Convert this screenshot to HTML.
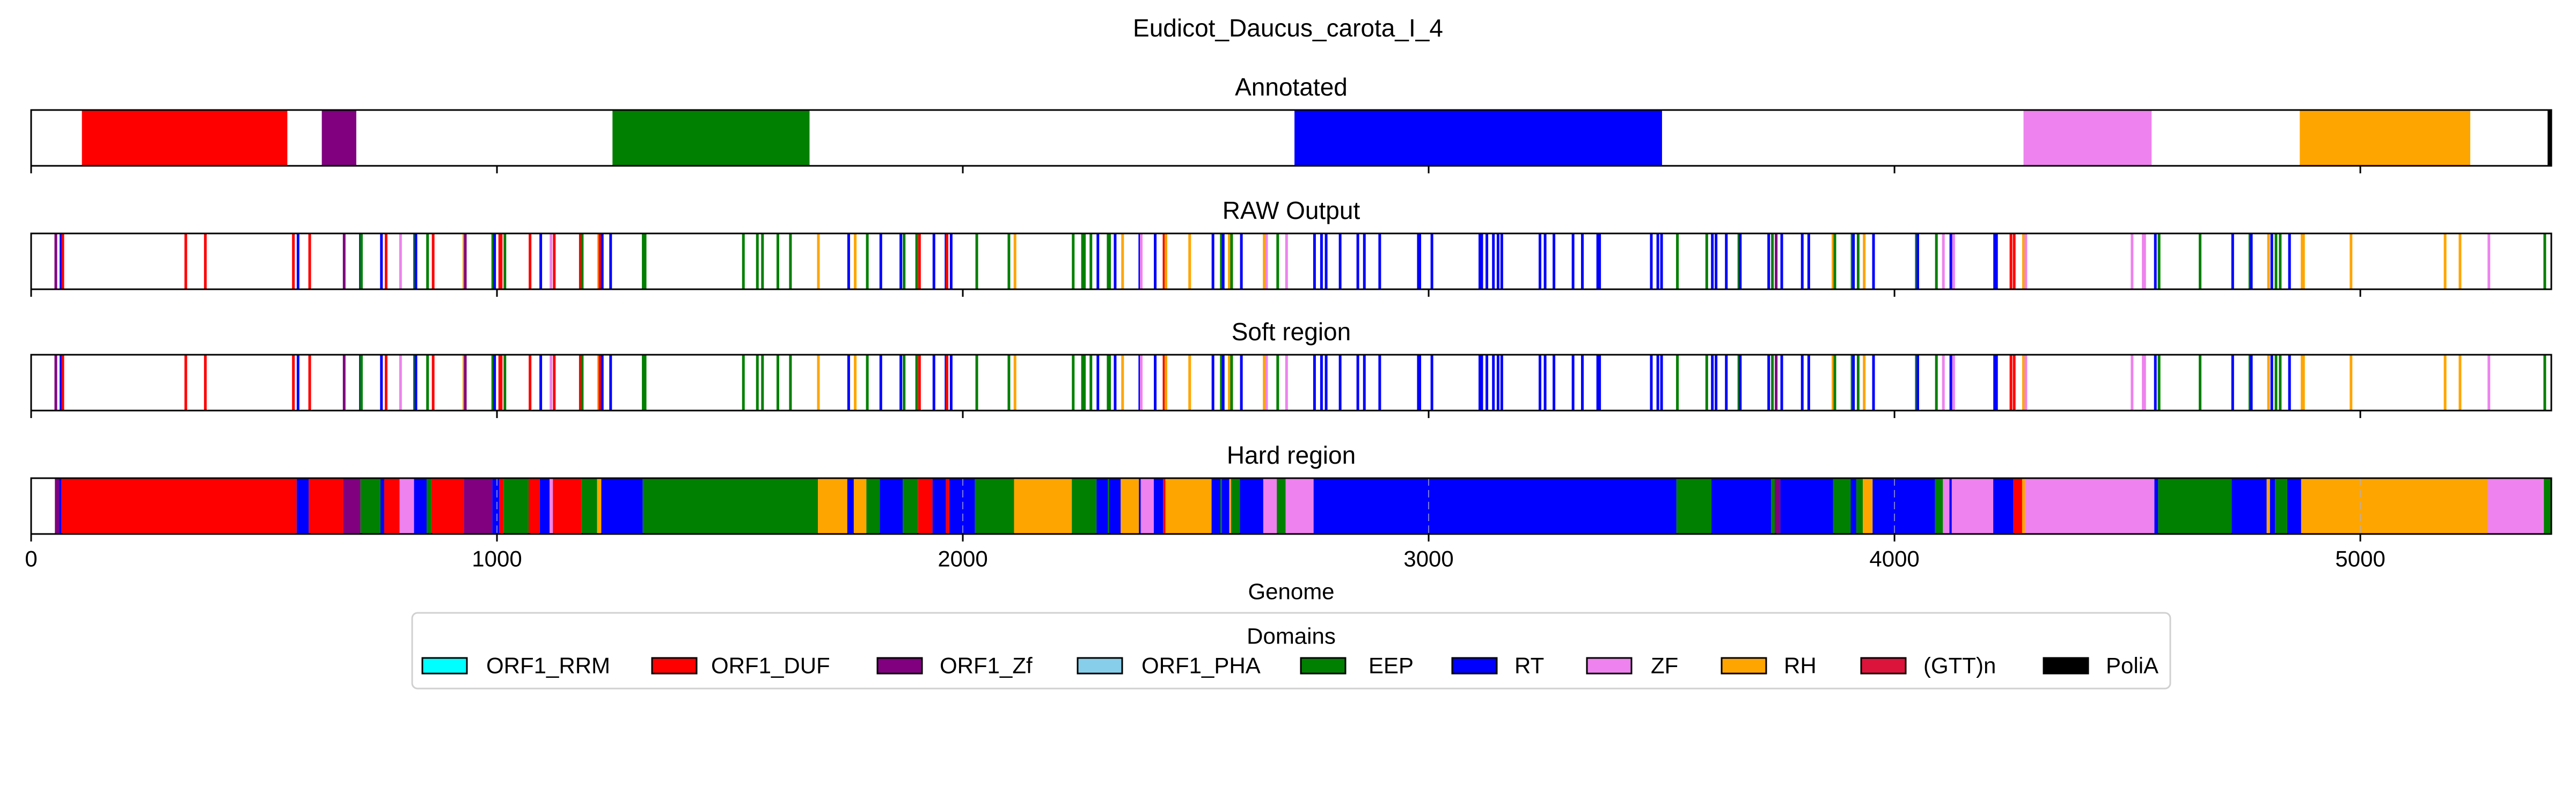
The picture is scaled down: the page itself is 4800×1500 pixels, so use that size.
<!DOCTYPE html>
<html><head><meta charset="utf-8">
<style>
html,body{margin:0;padding:0;background:#fff;}
svg{display:block;font-family:"Liberation Sans","DejaVu Sans",sans-serif;}
</style></head>
<body>
<svg id="chart" width="4800" height="1500" viewBox="0 0 4800 1500" xmlns="http://www.w3.org/2000/svg">
<rect x="0" y="0" width="4800" height="1500" fill="#fff"/>
<text x="2400" y="52" font-size="46" text-anchor="middle" dominant-baseline="central">Eudicot_Daucus_carota_I_4</text>
<g id="panels"></g>
<text x="2406" y="1102" font-size="42" text-anchor="middle" dominant-baseline="central">Genome</text>
<g id="legend">
<rect x="768" y="1142" width="3276" height="141" rx="10" fill="#fff" stroke="#d0d0d0" stroke-width="3"/>
<text x="2406" y="1185" font-size="42" text-anchor="middle" dominant-baseline="central">Domains</text>
</g>
</svg>
<script>
const xMin = 0, xMax = 5410;
const tickValues = [0, 1000, 2000, 3000, 4000, 5000];
const tickLabels = ["0", "1000", "2000", "3000", "4000", "5000"];
const domainNames = ["ORF1_RRM","ORF1_DUF","ORF1_Zf","ORF1_PHA","EEP","RT","ZF","RH","(GTT)n","PoliA"];
const domainColors = ["#00ffff","#ff0000","#800080","#87ceeb","#008000","#0000ff","#ee82ee","#ffa500","#dc143c","#000000"];
const codeMap = {D:"ORF1_DUF",Z:"ORF1_Zf",E:"EEP",R:"RT",F:"ZF",H:"RH",A:"PoliA",C:"(GTT)n"};

// Annotated segments
const annStarts = [109, 624, 1248, 2712, 4277, 4870, 5402];
const annEnds   = [550, 698, 1671, 3501, 4552, 5236, 5409];
const annDoms   = ["D","Z","E","R","F","H","A"];

// RAW / soft region hit positions
const rawPos = [53,64,68,332,374,563,573,598,672,707,709,752,762,793,823,826,851,863,929,932,
991,995,1006,1009,1017,1071,1094,1116,1123,1179,1183,1218,1221,1226,1244,1314,1318,1529,1559,1570,
1603,1630,1690,1755,1769,1795,1824,1867,1874,1901,1907,1938,1964,1966,1975,2030,2099,2112,2237,2257,
2261,2275,2290,2312,2315,2327,2343,2380,2383,2413,2432,2436,2487,2537,2555,2559,2572,2577,2598,2647,
2652,2676,2695,2755,2770,2780,2810,2848,2862,2895,2978,2981,3007,3110,3114,3125,3139,3149,3157,3239,
3250,3269,3310,3330,3363,3367,3478,3492,3500,3534,3597,3609,3617,3639,3666,3669,3730,3738,3746,3758,
3802,3816,3868,3872,3909,3912,3922,3935,3955,4047,4050,4090,4105,4121,4127,4215,4219,4250,4257,4277,
4282,4510,4534,4537,4560,4568,4656,4726,4763,4766,4803,4810,4819,4828,4848,4875,4878,4980,5182,5214,
5276,5396];
const rawDoms = ["Z","R","D","D","D","D","R","D","Z","R","E","R","D","F","E","R","E","D","H","Z",
"E","R","D","D","E","D","R","F","D","D","E","H","D","R","R","E","E","E","E","E",
"E","E","H","R","H","E","R","R","E","E","D","R","R","D","R","E","E","H","E","E",
"E","E","R","E","E","R","H","R","F","R","D","H","H","R","E","R","H","E","R","H",
"F","E","F","R","R","R","R","R","R","R","R","R","R","R","R","R","R","R","R","R",
"R","R","R","R","R","R","R","R","R","E","E","R","R","R","E","R","R","E","Z","R",
"R","R","H","E","E","R","E","H","R","E","R","E","F","R","F","R","R","D","D","H",
"F","F","F","F","R","E","E","R","E","R","H","R","E","E","R","H","H","H","H","H",
"F","E"];

// Hard region segments
const hardStarts = [51,60,65,570,596,670,707,750,758,791,822,849,859,929,990,1005,1014,1068,1092,1113,
1120,1181,1215,1224,1313,1689,1752,1766,1793,1822,1871,1904,1935,1964,1971,2026,2110,2234,2287,2311,
2314,2339,2378,2382,2410,2430,2435,2534,2553,2556,2572,2576,2595,2645,2674,2693,2753,3532,3607,3735,
3743,3755,3868,3906,3918,3932,3953,4087,4104,4118,4123,4212,4255,4274,4280,4558,4566,4724,4799,4806,
4817,4843,4873,5274,5394];
const hardEnds   = [60,65,570,596,670,707,750,758,791,822,849,859,929,990,1005,1014,1068,1092,1113,1120,
1181,1215,1224,1313,1689,1752,1766,1793,1822,1871,1904,1935,1964,1971,2026,2110,2234,2287,2311,2314,
2339,2378,2382,2410,2430,2435,2534,2553,2556,2572,2576,2595,2645,2674,2693,2753,3532,3607,3735,3743,
3755,3868,3906,3918,3932,3953,4087,4104,4118,4123,4212,4255,4274,4280,4558,4566,4724,4799,4806,4817,
4843,4873,5274,5394,5409];
const hardDoms   = ["Z","R","D","R","D","Z","E","R","D","F","R","E","D","Z","R","D","E","D","R","F",
"D","E","H","R","E","H","R","H","E","R","E","D","R","D","R","E","H","E","R","E",
"R","H","R","F","R","D","H","R","E","R","H","E","R","F","E","F","R","E","R","E",
"Z","R","E","R","E","H","R","E","F","R","F","R","D","H","F","R","E","R","H","R",
"E","R","H","F","E"];
</script>
<script>
const NS = "http://www.w3.org/2000/svg";
const svg = document.getElementById("chart");
const panelsG = document.getElementById("panels");
const PX0 = 58, PX1 = 4754;
function xScale(v){ return PX0 + (v - xMin) / (xMax - xMin) * (PX1 - PX0); }
function colorOf(code){ const n = codeMap[code] || "RT"; return domainColors[domainNames.indexOf(n)]; }
function mk(tag, attrs, parent){ const e = document.createElementNS(NS, tag); for (const k in attrs) e.setAttribute(k, attrs[k]); parent.appendChild(e); return e; }

const panels = [
  {title:"Annotated", y:205, kind:"seg", s:annStarts, e:annEnds, d:annDoms, name:"annotated-panel"},
  {title:"RAW Output", y:435, kind:"line", p:rawPos, d:rawDoms, name:"raw-output-panel"},
  {title:"Soft region", y:661, kind:"line", p:rawPos, d:rawDoms, name:"soft-region-panel"},
  {title:"Hard region", y:891, kind:"seg", s:hardStarts, e:hardEnds, d:hardDoms, name:"hard-region-panel"}
];
const PH = 104;
panels.forEach((pn, pi) => {
  const g = mk("g", {}, panelsG);
  
  
  const t = mk("text", {x:(PX0+PX1)/2, y:pn.y-43, "font-size":46, "text-anchor":"middle", "dominant-baseline":"central"}, g);
  t.textContent = pn.title;
  
  
  if (pn.kind === "seg") {
    for (let i = 0; i < pn.s.length; i++) {
      const x0 = xScale(pn.s[i]), x1 = xScale(pn.e[i]);
      const r = mk("rect", {x:x0, y:pn.y, width:Math.max(1, x1-x0), height:PH, fill:colorOf(pn.d[i])}, g);
      
      
    }
  } else {
    for (let i = 0; i < pn.p.length; i++) {
      const x = xScale(pn.p[i]);
      const r = mk("rect", {x:x-2.5, y:pn.y, width:5, height:PH, fill:colorOf(pn.d[i])}, g);
      
      
    }
  }
  if (pi === 3) {
    tickValues.slice(1).forEach(v => {
      const l = mk("line", {x1:xScale(v), x2:xScale(v), y1:pn.y, y2:pn.y+PH, stroke:"#b0b0d0", "stroke-width":2, "stroke-dasharray":"14,8", opacity:0.7}, g);
      
      
    });
  }
  const b = mk("rect", {x:PX0, y:pn.y, width:PX1-PX0, height:PH, fill:"none", stroke:"#000", "stroke-width":3}, g);
  
  
  tickValues.forEach((v, ti) => {
    const tk = mk("line", {x1:xScale(v), x2:xScale(v), y1:pn.y+PH, y2:pn.y+PH+14, stroke:"#000", "stroke-width":3}, g);
    
    
    if (pi === 3) {
      const tl = mk("text", {x:xScale(v), y:1041, "font-size":42, "text-anchor":"middle", "dominant-baseline":"central"}, g);
      tl.textContent = tickLabels[ti];
      
      
    }
  });
});

const legendPatchX = [787,1215,1635,2008,2424,2706,2957,3208,3468,3808];
const legendTextX  = [906,1325,1751,2127,2550,2822,3076,3324,3584,3924];
const lg = document.getElementById("legend");
domainNames.forEach((n, i) => {
  const ge = mk("g", {}, lg);
  
  
  mk("rect", {x:legendPatchX[i], y:1226, width:83, height:29, fill:domainColors[i], stroke:"#000", "stroke-width":3}, ge);
  const tx = mk("text", {x:legendTextX[i], y:1240, "font-size":42, "dominant-baseline":"central"}, ge);
  tx.textContent = n;
});
</script>
</body></html>
